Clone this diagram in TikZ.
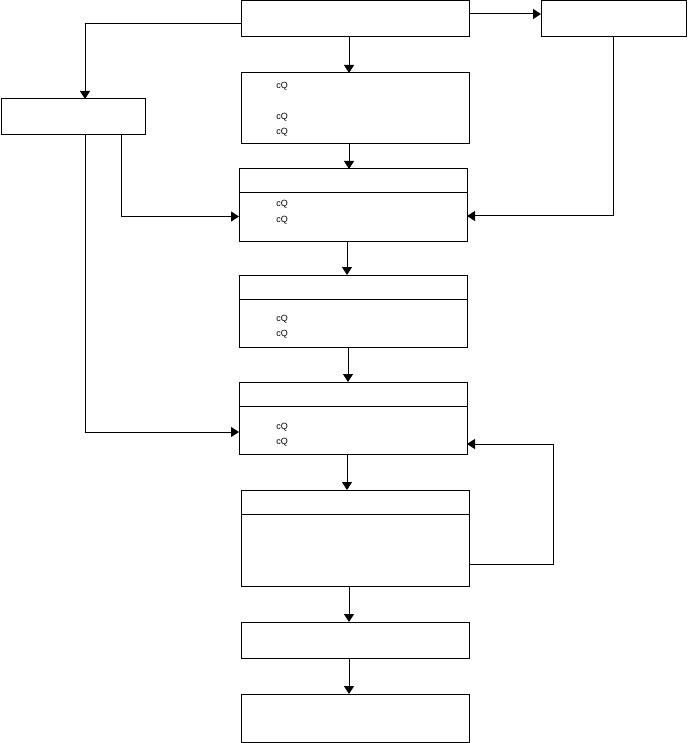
\documentclass[tikz,border=0pt]{standalone}
\usepackage{fontspec}
\setmainfont{Liberation Sans}
\usetikzlibrary{arrows.meta}
\begin{document}
\begin{tikzpicture}[x=1pt,y=-1pt,
  box/.style={draw,line width=1pt,inner sep=0pt,outer sep=0pt},
  arr/.style={line width=1pt,-{Triangle[length=8pt,width=10pt]}},
  plain/.style={line width=1pt},
  bul/.style={inner sep=0pt,font=\fontsize{9}{9}\selectfont}]
\useasboundingbox (0,0) rectangle (687,743);
% boxes
\node[box,minimum width=228pt,minimum height=36pt] (top) at (355,19) {};
\node[box,minimum width=145pt,minimum height=36pt] (rbox) at (613.5,19) {};
\node[box,minimum width=144pt,minimum height=36pt] (lbox) at (73,117) {};
\node[box,minimum width=228pt,minimum height=71pt] (b2) at (355,108.5) {};
\node[box,minimum width=228pt,minimum height=72pt] (b3) at (353,205) {};
\node[box,minimum width=228pt,minimum height=72pt] (b4) at (353,311) {};
\node[box,minimum width=228pt,minimum height=72pt] (b5) at (353,418) {};
\node[box,minimum width=228pt,minimum height=96pt] (b6) at (355,538) {};
\node[box,minimum width=228pt,minimum height=36pt] (b7) at (355,640) {};
\node[box,minimum width=228pt,minimum height=48pt] (b8) at (355,718) {};
% dividers
\draw[plain] ([yshift=-24pt]b3.north west) -- ([yshift=-24pt]b3.north east);
\draw[plain] ([yshift=-24pt]b4.north west) -- ([yshift=-24pt]b4.north east);
\draw[plain] ([yshift=-24pt]b5.north west) -- ([yshift=-24pt]b5.north east);
\draw[plain] ([yshift=-24pt]b6.north west) -- ([yshift=-24pt]b6.north east);
% bullets
\node[bul] (p1) at (282,86) {cQ};
\node[bul] (p2) at (282,117) {cQ};
\node[bul] (p3) at (282,132) {cQ};
\node[bul] (p4) at (282,204) {cQ};
\node[bul] (p5) at (282,220) {cQ};
\node[bul] (p6) at (282,319) {cQ};
\node[bul] (p7) at (282,334) {cQ};
\node[bul] (p8) at (282,427) {cQ};
\node[bul] (p9) at (282,442) {cQ};
% connectors
\draw[arr] ([yshift=5pt]top.east) -- ([yshift=5pt]rbox.west);
\draw[arr] ([yshift=-5pt]top.west) -| ([xshift=12pt]lbox.north);
\draw[arr] ([xshift=-6pt]top.south) -- ([xshift=-6pt]b2.north);
\draw[arr] (rbox.south) |- ([yshift=-11pt]b3.east);
\draw[arr] ([xshift=48pt]lbox.south) |- ([yshift=-11.5pt]b3.west);
\draw[arr] ([xshift=12pt]lbox.south) |- ([yshift=-14pt]b5.west);
\draw[arr] ([xshift=-6pt]b2.south) -- ([xshift=-6pt]b2.south |- b3.north);
\draw[arr] ([xshift=-6pt]b3.south) -- ([xshift=-6pt]b4.north);
\draw[arr] ([xshift=-5pt]b4.south) -- ([xshift=-5pt]b5.north);
\draw[arr] ([xshift=-6pt]b5.south) -- ([xshift=-6pt]b5.south |- b6.north);
\coordinate (loop) at ([xshift=84pt,yshift=-26pt]b6.east);
\draw[arr] ([yshift=-26pt]b6.east) -- (loop) |- ([yshift=-26pt]b5.east);
\draw[arr] ([xshift=-6pt]b6.south) -- ([xshift=-6pt]b7.north);
\draw[arr] ([xshift=-6pt]b7.south) -- ([xshift=-6pt]b8.north);
\end{tikzpicture}
\end{document}
